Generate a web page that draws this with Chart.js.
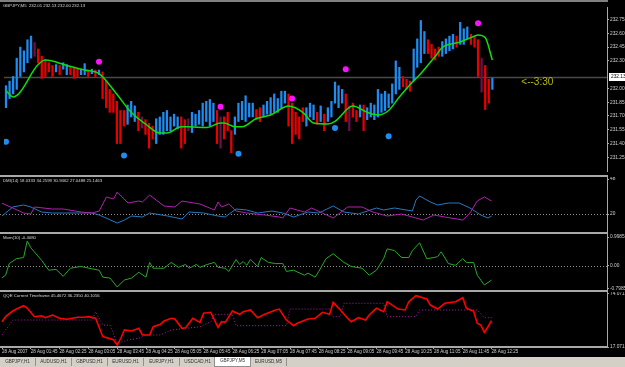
<!DOCTYPE html>
<html lang="en">
<head>
<meta charset="UTF-8" />
<title>GBPJPY,M5</title>
<script src="https://cdn.jsdelivr.net/npm/chart.js"></script>
<style>
  body { margin:0; background:#000; width:625px; height:367px; overflow:hidden; position:relative;
         font-family:"Liberation Sans", Arial, sans-serif; }
  .pane { position:absolute; left:0; width:625px; }
  .sep { position:absolute; left:0; width:608px; height:2px; background:#a8a8a8; }
  .lbl { position:absolute; left:3px; font-size:4.3px; line-height:6px; color:#d8d8d8; white-space:nowrap; }
  #topbar { position:absolute; left:0; top:0; width:608px; height:2px; background:#808080; }
  #tabs { position:absolute; left:0; top:357px; width:625px; height:10px; background:#d4d0c8; }
  .tab { position:absolute; top:1px; height:8px; width:35px; font-size:4.6px; line-height:8px; text-align:center;
         color:#303030; border-right:1px solid #909090; white-space:nowrap; overflow:hidden; }
  .tab.on { background:#fff; top:0; height:9px; border:1px solid #909090; border-top:none; }
</style>
</head>
<body>
<div id="topbar"></div>
<div class="pane" style="top:3px;height:172px"><canvas id="main"></canvas></div>
<div class="sep" style="top:175px"></div>
<div class="pane" style="top:177px;height:55px"><canvas id="dmi"></canvas></div>
<div class="sep" style="top:232px"></div>
<div class="pane" style="top:234px;height:56px"><canvas id="mom"></canvas></div>
<div class="sep" style="top:290px"></div>
<div class="pane" style="top:292px;height:65px"><canvas id="qqe"></canvas></div>

<div class="lbl" style="top:3px">GBPJPY,M5&nbsp; 232.01 232.13 232.00 232.13</div>
<div class="lbl" style="top:178px">DMI(14) 18.0333 34.2599 30.9462 27.0488 25.1463</div>
<div class="lbl" style="top:235px">Mom(10) -0.4080</div>
<div class="lbl" style="top:293px">QQE Current Timeframe 45.4672 36.2350 40.1056</div>

<div id="tabs">
  <div class="tab" style="left:0px">GBPJPY,H1</div>
  <div class="tab" style="left:36px">AUDUSD,H1</div>
  <div class="tab" style="left:72px">GBPUSD,H1</div>
  <div class="tab" style="left:108px">EURUSD,H1</div>
  <div class="tab" style="left:144px">EURJPY,H1</div>
  <div class="tab" style="left:180px">USDCAD,H1</div>
  <div class="tab on" style="left:214px">GBPJPY,M5</div>
  <div class="tab" style="left:251px">EURUSD,M5</div>
</div>

<script>
  // ---- price bars (M5), one per bar index ----
  const highs = [
    232.03,232.08,232.13,232.33,232.45,232.41,232.53,232.57,232.50,232.43,
    232.35,232.31,232.28,232.25,232.26,232.25,232.28,232.26,232.23,232.23,
    232.21,232.21,232.27,232.20,232.21,232.20,232.20,232.18,232.08,231.99,
    231.94,231.86,231.76,231.76,231.82,231.86,231.81,231.74,231.69,231.66,
    231.62,231.59,231.67,231.69,231.74,231.76,231.69,231.72,231.69,231.69,
    231.66,231.67,231.74,231.72,231.76,231.84,231.86,231.88,231.84,231.76,
    231.69,231.69,231.74,231.54,231.69,231.84,231.86,231.92,231.84,231.84,
    231.77,231.79,231.82,231.86,231.90,231.94,231.89,231.97,231.97,231.94,
    231.84,231.74,231.69,231.79,231.79,231.84,231.82,231.74,231.81,231.72,
    231.79,231.86,232.07,232.03,231.99,231.94,231.81,231.84,231.76,231.82,
    231.82,231.79,231.84,231.82,231.99,231.94,231.97,231.94,232.05,232.30,
    232.23,232.13,232.10,232.08,232.43,232.54,232.74,232.62,232.53,232.48,
    232.43,232.45,232.51,232.54,232.57,232.59,232.57,232.72,232.65,232.67,
    232.59,232.57,232.53,232.33,232.25,232.10,232.11];
  const lows = [
    231.79,231.89,231.94,231.99,232.13,232.18,232.28,232.33,232.35,232.28,
    232.11,232.13,232.18,232.13,232.18,232.15,232.21,232.15,232.15,232.11,
    232.13,232.15,232.15,232.13,232.16,232.13,232.15,231.89,231.79,231.74,
    231.74,231.40,231.40,231.59,231.61,231.69,231.64,231.54,231.57,231.50,
    231.35,231.45,231.40,231.50,231.50,231.54,231.54,231.59,231.56,231.35,
    231.40,231.54,231.52,231.59,231.61,231.59,231.64,231.59,231.64,231.40,
    231.35,231.45,231.54,231.30,231.50,231.64,231.66,231.64,231.69,231.69,
    231.66,231.64,231.69,231.72,231.72,231.74,231.74,231.79,231.84,231.59,
    231.40,231.50,231.45,231.64,231.59,231.69,231.66,231.61,231.64,231.54,
    231.64,231.69,231.84,231.79,231.84,231.64,231.54,231.69,231.64,231.69,
    231.54,231.66,231.69,231.66,231.69,231.74,231.76,231.79,231.84,231.94,
    231.99,232.02,231.99,231.97,232.08,232.23,232.28,232.38,232.38,232.33,
    232.31,232.35,232.35,232.38,232.41,232.43,232.45,232.48,232.48,232.54,
    232.48,232.45,232.13,231.96,231.77,231.84,231.99];
  // U = up bar, D = down bar, x = dotted (doji-like) bar
  const barDir = "UUUUUUUUxDDDDDUDUUDDDUUDUDUDDDDDDDUUUDxDDDUUUUUUUDDxUUUUUUUDxDDDUUUUUUDDUUUUUUUDDDDDUUUDUDUUUUUDxDDUDUUUUUUUUUUDDDUUUUDDDDUUUUDUUUDDDxDDU";
  const lastPrice = 232.13;
  const countdown = "<--3:30";

  // moving average
  const maIdx = [0,2,9,11,17,22,26,31,35,39,43,45,49,51,56,60,61,64,66,70,74,79,83,86,90,92,97,101,104,107,110,114,116,120,122,127,130,132,134,136];
  const maVal = [231.975,231.907,232.26,232.309,232.25,232.20,232.162,231.936,231.74,231.613,231.515,231.515,231.583,231.583,231.574,231.623,231.623,231.583,231.583,231.672,231.711,231.809,231.74,231.623,231.613,231.642,231.809,231.74,231.711,231.76,231.907,232.083,232.162,232.348,232.446,232.505,232.554,232.583,232.554,232.309];

  // signal dots
  const topDotIdx = [26, 60, 80, 95, 132];
  const topDotVal = [232.29, 231.80, 231.89, 232.21, 232.71];
  const botDotIdx = [0, 33, 65, 92, 107];
  const botDotVal = [231.42, 231.27, 231.29, 231.57, 231.48];

  const priceTicks = [232.75, 232.60, 232.45, 232.30, 232.00, 231.85, 231.70, 231.55, 231.40, 231.25];

  // DMI(14)
  const plusIdx = [0,3,6,8,9,14,17,22,25,27,29,31,32,35,38,39,41,45,48,50,55,59,60,61,63,65,68,73,77,78,80,84,86,89,92,96,100,103,107,111,117,120,123,128,130,132,134,136];
  const plusVal = [28.6,24.8,20.8,20,25.6,24,24,21.6,20.8,22.4,33.6,32,37.6,28.8,30.4,29.6,35.2,26.4,25.6,30.4,28,23.2,29.6,25.6,28,22.4,20.8,19.2,17.6,16.8,24.8,21.6,24.8,20.8,16.8,25.6,25.6,21.6,18.4,20,15.2,19.2,17.6,15.2,20.8,30.4,33.6,30.4];
  const minusIdx = [0,3,6,8,11,14,18,22,25,27,32,34,36,39,41,46,50,52,56,60,62,65,68,71,75,78,81,85,88,92,95,99,104,106,109,114,115,116,119,121,124,127,130,133,135,136];
  const minusVal = [18.4,25.6,27.2,25.6,21.6,20.8,20.8,20.8,20.8,19.2,12.8,15.2,18.4,17.6,20.8,18.4,16,21.6,20.8,18.4,17.6,24,23.2,20.8,22.4,20.8,17.6,21.6,20.8,26.4,21.6,20,24.8,23.2,24.8,22.4,31.2,34.4,29.6,27.2,28.8,28.8,24.8,19.2,16.8,18.4];
  const dmiLevel = 20;
  const dmiTicks = [48, 20];

  // Momentum(10)
  const momIdx = [0,1,2,4,6,7,8,11,13,15,17,19,22,23,27,28,30,32,34,36,38,40,41,42,45,47,49,51,52,54,55,57,59,60,62,63,65,66,67,68,69,71,72,74,76,78,79,81,84,85,87,88,90,92,95,97,100,102,104,106,107,109,111,113,114,116,118,120,121,122,124,126,128,129,131,132,134,136];
  const momVal = [-0.41,-0.32,0.08,0.25,0.29,0.86,0.63,0.19,-0.15,-0.12,-0.36,-0.08,-0.02,-0.05,-0.15,-0.39,-0.42,-0.73,-0.49,-0.42,-0.22,-0.39,0.12,-0.08,-0.08,0.12,-0.05,0.05,-0.08,0.05,-0.05,0.05,0.12,-0.05,-0.08,-0.19,0.22,0.05,0.15,0.02,0.22,-0.02,0.29,0.12,0.08,0.08,-0.19,-0.15,-0.32,-0.25,-0.39,-0.19,0.25,0.42,0.12,-0.02,-0.08,-0.32,-0.15,0.25,0.59,0.53,0.29,0.29,0.53,0.80,0.25,0.29,0.32,0.49,0.08,0.02,0.25,0.12,0.12,-0.32,-0.66,-0.49];
  const momLevel = 0;
  const momTicks = [0.9985, 0, -0.7985];
  const momTickText = ['0.9985', '0.00', '-0.7985'];

  // QQE
  const qqeIdx = [0,1,3,4,6,7,9,11,12,14,16,18,21,23,24,26,28,29,31,32,33,34,36,38,39,41,42,44,45,47,48,50,51,53,55,56,58,60,61,62,64,66,67,69,71,73,76,77,79,81,82,85,87,89,91,92,94,96,97,99,101,102,104,106,107,110,112,113,115,118,119,121,123,126,128,129,131,132,133,134,135,136];
  const qqeVal = [44.3,49.7,55.8,57.9,61.5,59.0,49.7,50.7,48.6,51.5,48.0,46.9,49.0,49.0,49.7,48.0,28.2,27.2,24.6,19.3,26.5,35.4,34.3,37.2,30.0,30.0,38.9,41.5,45.0,48.0,47.2,37.2,37.8,48.0,43.6,53.3,54.4,38.3,44.3,43.6,55.8,52.2,55.0,56.9,48.6,52.2,56.9,57.9,46.1,40.0,42.6,47.2,48.0,54.4,52.2,65.1,56.9,48.0,44.3,48.6,46.1,51.5,58.7,55.0,65.8,57.9,56.9,65.8,72.2,68.7,62.2,57.9,64.1,65.8,70.1,58.7,55.8,42.6,40.7,32.9,38.9,45.5];
  const trailIdx = [0,2,3,25,26,28,30,32,35,38,40,44,47,51,55,58,59,64,65,79,80,91,92,94,95,106,107,115,116,132,134,136];
  const trailVal = [30.0,40.7,46.1,46.1,55.0,40.7,40.7,21.1,24.6,26.5,30.0,30.0,35.4,37.2,38.9,44.3,52.2,52.2,40.0,40.0,57.9,57.9,49.7,49.7,64.1,64.1,49.7,49.7,56.9,56.9,48.6,48.6];
  const qqeTicks = [74.0712, 17.0718];
  const qqeTickText = ['74.0712', '17.0718'];

  // time axis, one label every 8 bars
  const timeIdx = [0,8,16,24,32,40,48,56,64,72,80,88,96,104,112,120,128,136];
  const timeLabels = ["28 Aug 2007","28 Aug 01:45","28 Aug 02:25","28 Aug 03:05","28 Aug 03:45","28 Aug 04:25",
    "28 Aug 05:05","28 Aug 05:45","28 Aug 06:25","28 Aug 07:05","28 Aug 07:45","28 Aug 08:25",
    "28 Aug 09:05","28 Aug 09:45","28 Aug 10:25","28 Aug 11:05","28 Aug 11:45","28 Aug 12:25"];

  // ---- helpers ----
  const X_MIN = -0.56, X_MAX = 168.06;
  const FONT = '"Liberation Sans", Arial, sans-serif';
  Chart.defaults.font.family = FONT;
  Chart.defaults.animation = false;

  const pts = (idx, val) => idx.map((x, i) => ({ x, y: val[i] }));

  function xHidden() {
    return { type: 'linear', min: X_MIN, max: X_MAX, offset: false, display: false };
  }

  function yRight(min, max, ticks, text) {
    return {
      type: 'linear', position: 'right', min, max,
      afterFit: s => { s.width = 18; s.paddingTop = 0; s.paddingBottom = 0; },
      afterBuildTicks: s => { s.ticks = ticks.map(v => ({ value: v })); },
      grid: { drawOnChartArea: false, tickLength: 2, color: '#a8a8a8' },
      border: { display: true, color: '#a8a8a8' },
      ticks: { autoSkip: false, padding: 1, color: '#d0d0d0', font: { size: 4.8 },
               callback: (v, i) => text ? text[i] : v.toFixed(2) }
    };
  }

  const levelPlugin = {
    id: 'level',
    beforeDatasetsDraw(chart, args, opts) {
      if (opts.value === undefined) return;
      const { ctx, chartArea: a } = chart;
      const y = Math.round(chart.scales.y.getPixelForValue(opts.value)) + 0.5;
      ctx.save();
      ctx.strokeStyle = '#8a8a8a';
      ctx.lineWidth = 1;
      ctx.setLineDash([1, 2]);
      ctx.beginPath(); ctx.moveTo(a.left, y); ctx.lineTo(a.right, y); ctx.stroke();
      ctx.restore();
    }
  };

  const pricePlugin = {
    id: 'price',
    beforeDatasetsDraw(chart) {
      const { ctx, chartArea: a } = chart;
      const y = Math.round(chart.scales.y.getPixelForValue(lastPrice)) + 0.5;
      ctx.save();
      ctx.strokeStyle = '#4a4a4a';
      ctx.lineWidth = 1.5;
      ctx.beginPath(); ctx.moveTo(a.left, y); ctx.lineTo(a.right, y); ctx.stroke();
      ctx.restore();
    },
    afterDraw(chart) {
      const { ctx, chartArea: a } = chart;
      const y = Math.round(chart.scales.y.getPixelForValue(lastPrice));
      ctx.save();
      ctx.fillStyle = '#ffffff';
      ctx.fillRect(a.right + 2, y - 4, 18, 8);
      ctx.fillStyle = '#000000';
      ctx.font = '4.8px ' + FONT;
      ctx.textBaseline = 'middle';
      ctx.fillText(lastPrice.toFixed(2), a.right + 4, y);
      ctx.fillStyle = '#b8b800';
      ctx.font = '10px ' + FONT;
      ctx.fillText(countdown, chart.scales.x.getPixelForValue(highs.length - 1) + 29, y + 5);
      ctx.restore();
    }
  };

  const baseOpts = (yScale, xScale, plugins) => ({
    responsive: true, maintainAspectRatio: false, devicePixelRatio: 1, events: [],
    layout: { padding: 0 },
    scales: { x: xScale, y: yScale },
    plugins: Object.assign({ legend: { display: false }, tooltip: { enabled: false } }, plugins || {})
  });

  // ---- main price chart ----
  const dirColor = { U: '#1e8cf0', D: '#e80000', x: '#6a1248' };
  const bars = highs.map((h, i) => ({ x: i, y: [lows[i], h] }));

  new Chart(document.getElementById('main'), {
    type: 'line',
    data: {
      datasets: [
        { type: 'bar', data: bars, backgroundColor: bars.map((b, i) => dirColor[barDir[i]]),
          barThickness: 1.6, borderWidth: 0, order: 4 },
        { data: pts(maIdx, maVal), borderColor: '#10dd10', borderWidth: 1.5, pointRadius: 0,
          cubicInterpolationMode: 'monotone', order: 3 },
        { data: pts(topDotIdx, topDotVal), showLine: false, pointRadius: 3, pointBackgroundColor: '#ff10ff',
          pointBorderWidth: 0, order: 1 },
        { data: pts(botDotIdx, botDotVal), showLine: false, pointRadius: 3, pointBackgroundColor: '#1e8cf0',
          pointBorderWidth: 0, order: 1 }
      ]
    },
    options: baseOpts(yRight(231.101, 232.887, priceTicks), xHidden()),
    plugins: [pricePlugin]
  });

  // ---- DMI ----
  new Chart(document.getElementById('dmi'), {
    type: 'line',
    data: {
      datasets: [
        { data: pts(plusIdx, plusVal), borderColor: '#b020b0', borderWidth: 1, pointRadius: 0 },
        { data: pts(minusIdx, minusVal), borderColor: '#2a78c0', borderWidth: 1, pointRadius: 0 }
      ]
    },
    options: baseOpts(yRight(5.6, 49.6, dmiTicks, dmiTicks.map(String)), xHidden(), { level: { value: dmiLevel } }),
    plugins: [levelPlugin]
  });

  // ---- Momentum ----
  new Chart(document.getElementById('mom'), {
    type: 'line',
    data: {
      datasets: [
        { data: pts(momIdx, momVal), borderColor: '#28a828', borderWidth: 1, pointRadius: 0 }
      ]
    },
    options: baseOpts(yRight(-0.834, 1.104, momTicks, momTickText), xHidden(), { level: { value: momLevel } }),
    plugins: [levelPlugin]
  });

  // ---- QQE with the time axis ----
  const timeAxis = {
    type: 'linear', min: X_MIN, max: X_MAX, offset: false, position: 'bottom',
    afterBuildTicks: s => { s.ticks = timeIdx.map(v => ({ value: v })); },
    afterFit: s => { s.height = 10; s.paddingLeft = 0; s.paddingRight = 0; },
    grid: { drawOnChartArea: false, tickLength: 2, color: '#a8a8a8' },
    border: { display: true, color: '#a8a8a8', width: 2 },
    ticks: { align: 'start', autoSkip: false, maxRotation: 0, padding: 0, color: '#d0d0d0',
             font: { size: 4.5 }, callback: (v, i) => timeLabels[i] }
  };

  new Chart(document.getElementById('qqe'), {
    type: 'line',
    data: {
      datasets: [
        { data: pts(qqeIdx, qqeVal), borderColor: '#ff0000', borderWidth: 1.6, pointRadius: 0, order: 1 },
        { data: pts(trailIdx, trailVal), borderColor: '#a020a0', borderWidth: 1, borderDash: [1, 2],
          pointRadius: 0, order: 2 }
      ]
    },
    options: baseOpts(yRight(17.1, 76.22, qqeTicks, qqeTickText), timeAxis)
  });
</script>
</body>
</html>
